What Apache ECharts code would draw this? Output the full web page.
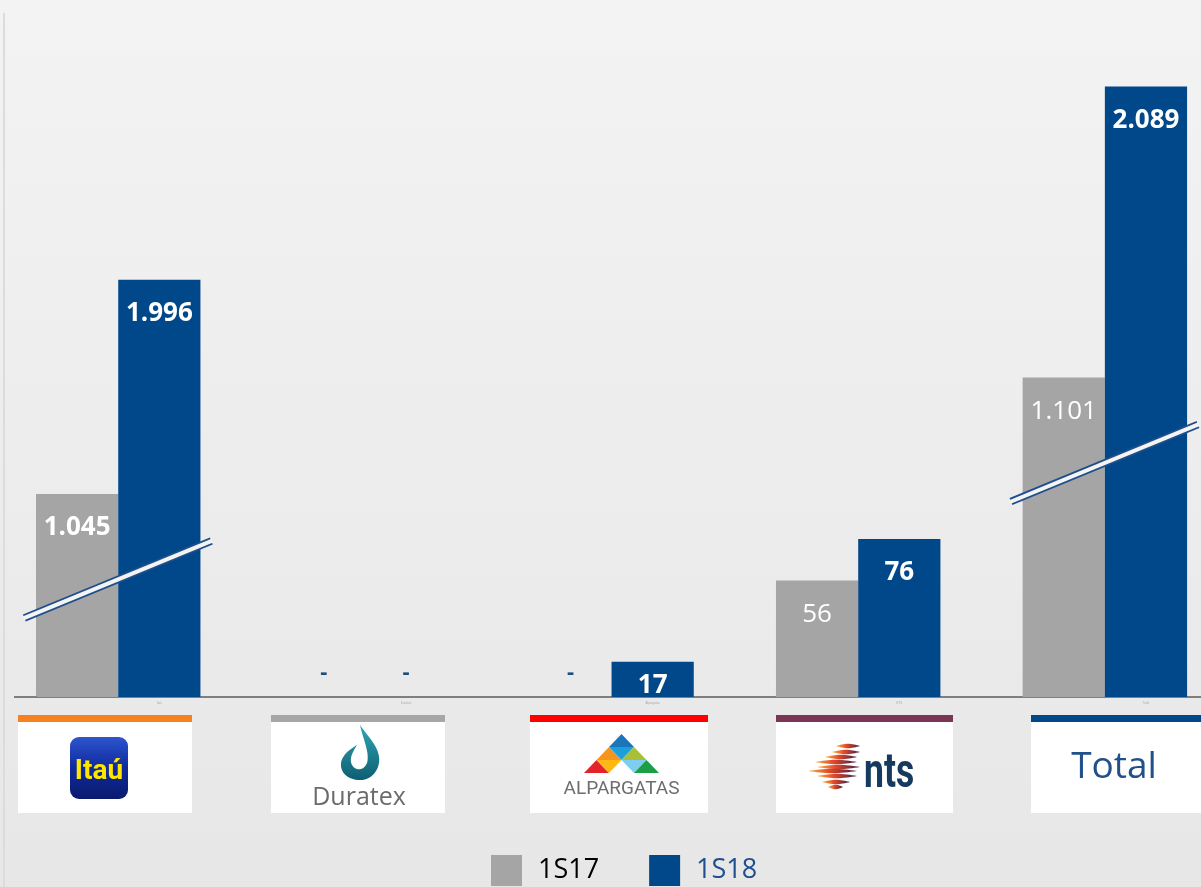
<!DOCTYPE html>
<html>
<head>
<meta charset="utf-8">
<script src="https://cdn.jsdelivr.net/npm/echarts@6/dist/echarts.min.js"></script>
<style>
  html, body { margin: 0; padding: 0; }
  #chart { width: 1201px; height: 887px; }
</style>
</head>
<body>
<div id="chart"></div>
<script>
// --- data ---
const companies = ['Itaú', 'Duratex', 'Alpargatas', 'NTS', 'Total'];
const seriesNames = ['1S17', '1S18'];
const values1S17 = [1045, 0, 0, 56, 1101];
const values1S18 = [1996, 0, 17, 76, 2089];

// --- styles ---
const colors = ['#a5a5a5', '#00488a'];
const boldGray = [true, false, false, false, false];
const cardColors = ['#f5821f', '#a6a6a6', '#ff0000', '#7b3656', '#00488a'];
const cardX = [18, 271, 530, 776, 1031];
const cardW = [174, 174, 178, 177, 178];

const fmt = v => String(v).replace(/\B(?=(\d{3})+(?!\d))/g, '.');

function barItems(values, boldFlags) {
  return values.map((v, i) => {
    let label = {};
    if (v === 0) {
      label = { position: 'top', distance: 13, formatter: '-', color: '#1f4e79', fontSize: 22, fontWeight: 'bold' };
    } else if (v < 30) {
      label = { position: 'inside', offset: [0, 6] };
    }
    if (boldFlags && !boldFlags[i] && v !== 0) label.fontWeight = 'normal';
    return { value: v, label: label };
  });
}

// sample a closed outline made of cubic bezier segments into polygon points
function bezierPoints(start, segs) {
  const pts = [start];
  let p0 = start;
  segs.forEach(s => {
    for (let k = 1; k <= 12; k++) {
      const t = k / 12, u = 1 - t;
      pts.push([
        u * u * u * p0[0] + 3 * u * u * t * s[0][0] + 3 * u * t * t * s[1][0] + t * t * t * s[2][0],
        u * u * u * p0[1] + 3 * u * u * t * s[0][1] + 3 * u * t * t * s[1][1] + t * t * t * s[2][1]
      ]);
    }
    p0 = s[2];
  });
  return pts;
}

function lens(x0, x1, cy, ry) {
  const pts = [];
  for (let k = 0; k <= 16; k++) {
    const t = k / 16, x = x0 + (x1 - x0) * t;
    pts.push([x, cy - ry * Math.sin(Math.PI * t)]);
  }
  for (let k = 15; k > 0; k--) {
    const t = k / 16, x = x0 + (x1 - x0) * t;
    pts.push([x, cy + ry * Math.sin(Math.PI * t)]);
  }
  return pts;
}

const chart = echarts.init(document.getElementById('chart'));

const option = {
  animation: false,
  backgroundColor: {
    type: 'linear', x: 0, y: 0, x2: 0, y2: 1,
    colorStops: [{ offset: 0, color: '#f3f3f3' }, { offset: 1, color: '#e7e7e7' }]
  },
  grid: { left: 36, top: 22, bottom: 190, width: 1233.3, outerBoundsMode: 'none' },
  legend: {
    left: 491,
    top: 855,
    padding: 0,
    itemWidth: 31,
    itemHeight: 31,
    itemGap: 50,
    icon: 'rect',
    textStyle: { fontSize: 27, fontFamily: 'Open Sans', padding: [0, 0, 0, 11] },
    data: [
      { name: seriesNames[0], textStyle: { color: '#000000' } },
      { name: seriesNames[1], textStyle: { color: '#1f4f8f' } }
    ]
  },
  xAxis: {
    type: 'category',
    data: companies,
    axisLine: { lineStyle: { color: '#7f7f7f', width: 2 } },
    axisTick: { show: false },
    axisLabel: { fontSize: 3, color: '#aaaaaa', margin: 5 }
  },
  yAxis: {
    type: 'value',
    min: 0,
    max: 2120,
    breaks: [
      { start: 85, end: 1035.4, gap: 3 },
      { start: 1110, end: 1990, gap: 32 }
    ],
    breakArea: { show: false, itemStyle: { opacity: 0, borderWidth: 0 } },
    axisLine: { show: false },
    axisTick: { show: false },
    axisLabel: { show: false },
    splitLine: { show: false }
  },
  series: [
    {
      name: seriesNames[0],
      type: 'bar',
      barGap: '0%',
      barCategoryGap: '0%',
      itemStyle: { color: colors[0] },
      label: {
        show: true, position: 'insideTop', distance: 21,
        color: '#ffffff', fontSize: 26, fontFamily: 'Open Sans', fontWeight: 'bold',
        formatter: p => fmt(p.value)
      },
      data: barItems(values1S17, boldGray)
    },
    {
      name: seriesNames[1],
      type: 'bar',
      barGap: '0%',
      barCategoryGap: '0%',
      itemStyle: { color: colors[1] },
      label: {
        show: true, position: 'insideTop', distance: 21,
        color: '#ffffff', fontSize: 26, fontFamily: 'Open Sans', fontWeight: 'bold',
        formatter: p => fmt(p.value)
      },
      data: barItems(values1S18, null)
    },
    {
      name: 'spacer',
      type: 'bar',
      barGap: '0%',
      barCategoryGap: '0%',
      data: companies.map(() => null)
    }
  ]
};

chart.setOption(option);

// --- decorations: break marks, logo cards ---
const baseY = chart.convertToPixel({ yAxisIndex: 0 }, 0);
const graphics = [];

// left slide border and axis-line stub
graphics.push({ type: 'rect', shape: { x: 3, y: 13, width: 2, height: 874 }, style: { fill: '#dcdcdc' }, z: 1 });
graphics.push({ type: 'line', shape: { x1: 14, y1: baseY, x2: 37, y2: baseY }, style: { stroke: '#7f7f7f', lineWidth: 2 }, z: 5 });

companies.forEach((c, i) => {
  if (values1S18[i] < 1000) return;
  const cx = chart.convertToPixel({ xAxisIndex: 0 }, i);
  const topY = chart.convertToPixel({ yAxisIndex: 0 }, values1S17[i]);
  const x1 = cx - 135, y1 = topY + 124, x2 = cx + 52, y2 = topY + 47;
  graphics.push({ type: 'line', shape: { x1, y1, x2, y2 }, style: { stroke: '#1f4e8c', lineWidth: 7.5 }, z: 20 });
  graphics.push({ type: 'line', shape: { x1: x1 - 1, y1: y1 + 0.4, x2: x2 + 1, y2: y2 - 0.4 }, style: { stroke: '#f4f4f4', lineWidth: 4 }, z: 21 });
});

function logo(i) {
  const w = cardW[i];
  const kids = [
    { type: 'rect', shape: { x: 0, y: 0, width: w, height: 7 }, style: { fill: cardColors[i] } },
    { type: 'rect', shape: { x: 0, y: 7, width: w, height: 91 }, style: { fill: '#ffffff' } }
  ];
  if (i === 0) {
    kids.push({ type: 'rect', shape: { x: 52, y: 22, width: 58, height: 62, r: 9 },
      style: { fill: { type: 'linear', x: 0, y: 0, x2: 0, y2: 1, colorStops: [{ offset: 0, color: '#2d55d0' }, { offset: 0.5, color: '#0f2a9a' }, { offset: 1, color: '#0a1a6e' }] } } });
    kids.push({ type: 'text', style: { x: 81, y: 57, text: 'Itaú', fill: '#ffe600', font: 'bold 28px Roboto', align: 'center', verticalAlign: 'middle' } });
  } else if (i === 1) {
    const drop = bezierPoints([89, 10], [
      [[99, 24], [110, 34], [108, 48]],
      [[106, 60], [96, 66], [87, 65]],
      [[76, 64], [69, 57], [70, 48]],
      [[71, 40], [79, 34], [86, 30]],
      [[81, 38], [78, 44], [81, 50]],
      [[84, 56], [93, 56], [96, 48]],
      [[99, 38], [92, 24], [89, 10]]
    ]);
    kids.push({ type: 'polygon', shape: { points: drop },
      style: { fill: { type: 'linear', x: 0, y: 0, x2: 0, y2: 1, colorStops: [{ offset: 0, color: '#2fa7b5' }, { offset: 1, color: '#0d5e72' }] } } });
    kids.push({ type: 'text', style: { x: 88, y: 95, text: 'Duratex', fill: '#6b6b6b', font: '25px "Open Sans"', align: 'center', verticalAlign: 'bottom' } });
  } else if (i === 2) {
    const ax = 91.5, ay = 19, s = 25, h = 13;
    const tris = [
      [[ax, ay], [ax - s / 2, ay + h], [ax + s / 2, ay + h], '#1b75bc'],
      [[ax - s / 2, ay + h], [ax - s, ay + 2 * h], [ax, ay + 2 * h], '#f7941d'],
      [[ax - s / 2, ay + h], [ax + s / 2, ay + h], [ax, ay + 2 * h], '#1ba0db'],
      [[ax + s / 2, ay + h], [ax, ay + 2 * h], [ax + s, ay + 2 * h], '#a8c038'],
      [[ax - s, ay + 2 * h], [ax - 1.5 * s, ay + 3 * h], [ax - s / 2, ay + 3 * h], '#e42229'],
      [[ax - s, ay + 2 * h], [ax, ay + 2 * h], [ax - s / 2, ay + 3 * h], '#fdb913'],
      [[ax, ay + 2 * h], [ax + s, ay + 2 * h], [ax + s / 2, ay + 3 * h], '#7fcdf0'],
      [[ax + s, ay + 2 * h], [ax + s / 2, ay + 3 * h], [ax + 1.5 * s, ay + 3 * h], '#1a9e48']
    ];
    tris.forEach(t => kids.push({ type: 'polygon', shape: { points: [t[0], t[1], t[2]] }, style: { fill: t[3] } }));
    kids.push({ type: 'text', style: { x: 91.5, y: 84, text: 'ALPARGATAS', fill: '#6d6e71', font: '19px Roboto', align: 'center', verticalAlign: 'bottom' } });
  } else if (i === 3) {
    const rows = [[60, 84, 31], [56, 84, 37], [49, 81, 42], [39, 81, 47], [41, 84, 52], [32, 81, 56], [41, 81, 61], [46, 74, 67], [52, 67, 72]];
    rows.forEach(r => kids.push({ type: 'polygon', shape: { points: lens(r[0], r[1], r[2], 2.2) },
      style: { fill: { type: 'linear', x: 0, y: 0, x2: 1, y2: 0, colorStops: [{ offset: 0, color: '#fbb03b' }, { offset: 0.45, color: '#e0452b' }, { offset: 1, color: '#3b1f45' }] } } }));
    kids.push({ type: 'text', x: 88, y: 60, scaleX: 0.74, style: { x: 0, y: 0, text: 'nts', fill: '#163a5f', font: 'bold 48px Roboto', align: 'left', verticalAlign: 'middle' } });
  } else {
    kids.push({ type: 'text', style: { x: 83, y: 52, text: 'Total', fill: '#22508a', font: '37px "Open Sans"', align: 'center', verticalAlign: 'middle' } });
  }
  return { type: 'group', x: cardX[i], y: 715, z: 10, children: kids };
}

companies.forEach((c, i) => graphics.push(logo(i)));

chart.setOption({ graphic: graphics });
</script>
</body>
</html>
